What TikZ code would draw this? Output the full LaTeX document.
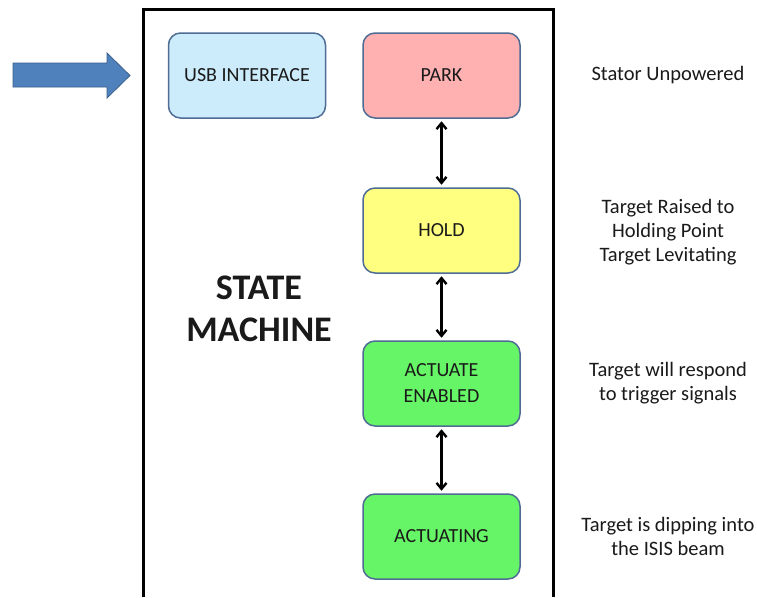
\documentclass[tikz,border=0pt]{standalone}
\usepackage{fontspec}
\setmainfont{Carlito}
\usetikzlibrary{arrows.meta}
\definecolor{usbfill}{HTML}{CCECFB}
\definecolor{parkfill}{HTML}{FFB0B0}
\definecolor{holdfill}{HTML}{FFFF80}
\definecolor{actfill}{HTML}{66F566}
\definecolor{boxedge}{HTML}{4E6C94}
\definecolor{bluearrow}{HTML}{4F81BD}
\definecolor{bluearrowedge}{HTML}{3A5F8C}
\definecolor{txt}{HTML}{1A1A1A}
\tikzset{
  statebox/.style={draw=boxedge, line width=1.5pt, rounded corners=12pt,
    minimum width=157pt, minimum height=85pt, align=center,
    font=\fontsize{20}{26}\selectfont, text=txt, inner sep=2pt},
  note/.style={align=center, font=\fontsize{20.5}{24}\selectfont, text=txt},
  link/.style={{Straight Barb[length=6pt,width=10pt]}-{Straight Barb[length=6pt,width=10pt]}, line width=2.4pt, shorten <=2.5pt, shorten >=2.5pt}
}
\begin{document}
\begin{tikzpicture}[x=1pt,y=-1pt]
\useasboundingbox (0,0) rectangle (757,597);
\fill[white] (0,0) rectangle (757,597);
% outer frame
\draw[line width=3pt] (143,597) -- (143,9) -- (553,9) -- (553,597);
% input block arrow
\filldraw[fill=bluearrow, draw=bluearrowedge, line width=0.8pt]
  (13,63) -- (107,63) -- (107,53) -- (130,75.5) -- (107,98) -- (107,87) -- (13,87) -- cycle;
% states
\node[statebox, fill=usbfill] (usb) at (247,75.5) {USB INTERFACE};
\node[statebox, fill=parkfill] (park) at (441.5,75.5) {PARK};
\node[statebox, fill=holdfill] (hold) at (441.5,230.5) {HOLD};
\node[statebox, fill=actfill] (actEn) at (441.5,383.5) {ACTUATE\\ENABLED};
\node[statebox, fill=actfill] (acting) at (441.5,536.5) {ACTUATING};
% links
\draw[link] (park.south) -- (hold.north);
\draw[link] (hold.south) -- (actEn.north);
\draw[link] (actEn.south) -- (acting.north);
% title
\node[align=center, font=\bfseries\fontsize{36}{42}\selectfont, text=txt] (title) at (259,309) {STATE\\MACHINE};
% notes
\node[note] (n1) at (668,75.5) {Stator Unpowered};
\node[note] (n2) at (668,232) {Target Raised to\\Holding Point\\Target Levitating};
\node[note] (n3) at (668,383) {Target will respond\\to trigger signals};
\node[note] (n4) at (668,536) {Target is dipping into\\the ISIS beam};
\end{tikzpicture}
\end{document}
